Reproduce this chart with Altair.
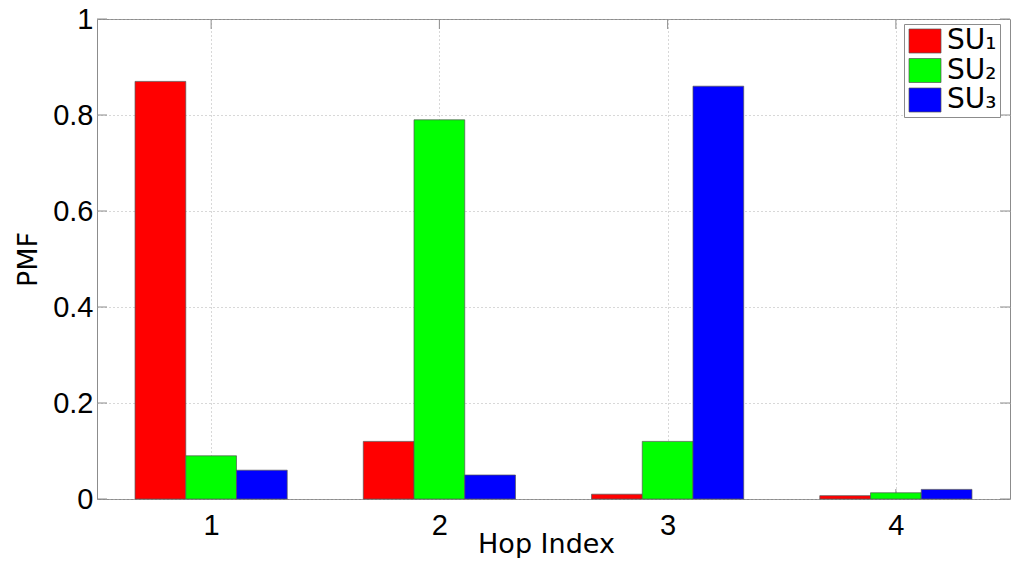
import altair as alt
import pandas as pd

# ---- data ----
hops = [1, 2, 3, 4]
series_names = ["SU\u2081", "SU\u2082", "SU\u2083"]
su1 = [0.87, 0.12, 0.01, 0.007]
su2 = [0.09, 0.79, 0.12, 0.013]
su3 = [0.06, 0.05, 0.86, 0.02]
series_colors = ["#ff0000", "#00ff00", "#0000ff"]
y_ticks = [0, 0.2, 0.4, 0.6, 0.8, 1.0]

rows = []
for k, (name, vals) in enumerate(zip(series_names, [su1, su2, su3])):
    for h, v in zip(hops, vals):
        rows.append({"hop": h, "series": name, "k": k, "pmf": v})
df = pd.DataFrame(rows)
xt = pd.DataFrame({"t": hops})
yt = pd.DataFrame({"t": y_ticks})

W, H = 913, 480
xscale = alt.Scale(domain=[0.5, 4.5], nice=False, zero=False)
yscale = alt.Scale(domain=[0, 1], nice=False)

GRID = dict(grid=True, gridColor="#b0b0b0", gridDash=[1, 3], gridWidth=1,
            domain=False, ticks=False, labelColor="black",
            labelFont="Liberation Sans", labelFontSize=29,
            titleFont="DejaVu Sans", titleFontSize=27, titleFontWeight="normal",
            titleColor="black", labelOverlap=False, labelFlush=False)

xaxis = alt.Axis(values=hops, format="d", labelPadding=12, title="Hop Index",
                 titleX=449, titleY=53, titleAlign="center",
                 titleBaseline="alphabetic", **GRID)
yaxis = alt.Axis(values=y_ticks, format="~g", labelPadding=4, title="PMF",
                 titleX=-61, titleY=240, titleAlign="center", titleAngle=-90,
                 titleBaseline="alphabetic", **GRID)

bars = alt.Chart(df).transform_calculate(
    x0="datum.hop - 1/3 + datum.k * 2/9",
    x1="datum.hop - 1/3 + (datum.k + 1) * 2/9",
).mark_bar(stroke="#555555", strokeWidth=0.7, opacity=1).encode(
    x=alt.X("x0:Q", scale=xscale, axis=xaxis, title="Hop Index"),
    x2="x1:Q",
    y=alt.Y("pmf:Q", scale=yscale, axis=yaxis, title="PMF"),
    y2=alt.datum(0),
    color=alt.Color(
        "series:N",
        scale=alt.Scale(domain=series_names, range=series_colors),
        legend=alt.Legend(
            title=None, orient="none", legendX=807, legendY=5,
            symbolType="M-1,-1H1.667V1H-1Z", symbolSize=576,
            symbolStrokeColor="#555555", symbolStrokeWidth=0.7,
            symbolOpacity=1,
            labelFont="DejaVu Sans", labelFontSize=28, labelColor="black",
            labelExpr="datum.label + '\u2009'",
            labelOffset=12, rowPadding=1.5, padding=3,
            strokeColor="#8c8c8c", fillColor="white", cornerRadius=0,
        ),
    ),
)

TICK = dict(color="#8c8c8c", strokeWidth=1)
yl = alt.Chart(yt).mark_rule(**TICK).encode(
    y=alt.Y("t:Q", scale=yscale, axis=yaxis, title="PMF"),
    x=alt.value(0), x2=alt.value(10))
yr = alt.Chart(yt).mark_rule(**TICK).encode(
    y=alt.Y("t:Q", scale=yscale, axis=yaxis, title="PMF"),
    x=alt.value(W - 10), x2=alt.value(W))
xb = alt.Chart(xt).mark_rule(**TICK).encode(
    x=alt.X("t:Q", scale=xscale, axis=xaxis, title="Hop Index"),
    y=alt.value(H - 10), y2=alt.value(H))
xtop = alt.Chart(xt).mark_rule(**TICK).encode(
    x=alt.X("t:Q", scale=xscale, axis=xaxis, title="Hop Index"),
    y=alt.value(0), y2=alt.value(10))

chart = alt.layer(yl, yr, xb, xtop, bars).properties(
    width=W, height=H,
    autosize=alt.AutoSizeParams(type="none"),
    padding={"left": 89, "top": 11, "right": 6, "bottom": 59},
    background="white",
).configure_view(stroke="#8c8c8c", strokeWidth=1)

chart.save("out.html", embed_options={"renderer": "svg", "actions": False})
